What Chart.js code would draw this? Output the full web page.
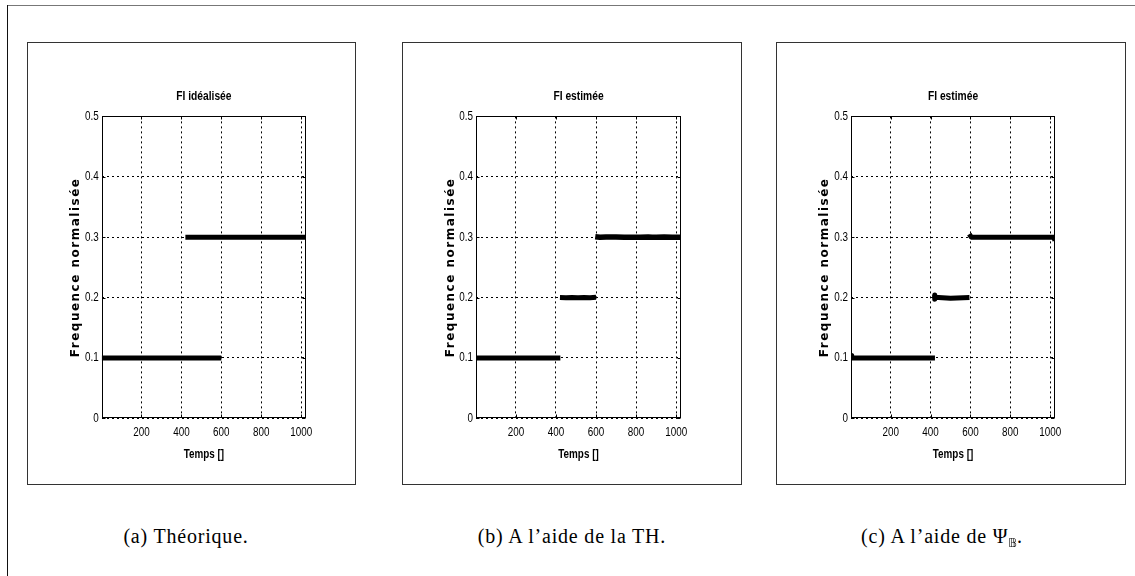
<!DOCTYPE html>
<html><head><meta charset="utf-8">
<script src="https://cdn.jsdelivr.net/npm/chart.js@4.4.1/dist/chart.umd.min.js"></script>
<style>
html,body{margin:0;padding:0;background:#fff;width:1135px;height:576px;overflow:hidden;position:relative;}
.frameTop{position:absolute;left:7px;top:5px;width:1128px;height:0;border-top:1px solid #777;}
.frameLeft{position:absolute;left:7px;top:5px;width:0;height:571px;border-left:1px solid #111;}
.panel{position:absolute;top:42px;height:443px;box-sizing:border-box;border:1px solid #333;}
canvas{position:absolute;top:42px;}
.cap{position:absolute;top:525px;font-family:"Liberation Serif","DejaVu Serif",serif;font-size:20px;letter-spacing:0.8px;color:#000;transform:translateX(-50%);white-space:nowrap;}
.cap sub{display:inline-block;font-family:"DejaVu Sans",sans-serif;font-size:12px;color:#000;letter-spacing:0;vertical-align:-4px;filter:grayscale(1) brightness(0.3);}
</style></head><body>
<div class="frameTop"></div><div class="frameLeft"></div>
<div class="panel" style="left:27px;width:329px;"></div>
<div class="panel" style="left:402px;width:340px;"></div>
<div class="panel" style="left:776px;width:350px;"></div>
<canvas id="ca" width="329" height="443" style="left:27px;width:329px;height:443px;"></canvas>
<canvas id="cb" width="340" height="443" style="left:402px;width:340px;height:443px;"></canvas>
<canvas id="cc" width="350" height="443" style="left:776px;width:350px;height:443px;"></canvas>
<div class="cap" style="left:186px;">(a) Théorique.</div>
<div class="cap" style="left:572px;">(b) A l’aide de la TH.</div>
<div class="cap" style="left:942px;">(c) A l’aide de Ψ<sub>𝔹</sub>.</div>
<script>
// ---- tick values / labels ----
const xTicks = [200, 400, 600, 800, 1000];
const xTickLabels = ['200', '400', '600', '800', '1000'];
const yTicks = [0, 0.1, 0.2, 0.3, 0.4, 0.5];
const yTickLabels = ['0', '0.1', '0.2', '0.3', '0.4', '0.5'];
const xMin = 1, xMax = 1024, yMin = 0, yMax = 0.5;

const titleA = 'FI idéalisée';
const titleB = 'FI estimée';
const titleC = 'FI estimée';
const xLabel = 'Temps []';
const yLabel = 'Frequence normalisée';

// ---- panel (a) théorique ----
const aSeg1X = [1, 600];
const aSeg1Y = [0.1, 0.1];
const aSeg2X = [420, 1024];
const aSeg2Y = [0.3, 0.3];

// ---- panel (b) TH ----
const bSeg1X = [1, 100, 200, 300, 422];
const bSeg1Y = [0.1, 0.1, 0.1, 0.1, 0.1];
const bSeg2X = [420, 450, 480, 510, 540, 570, 600];
const bSeg2Y = [0.2, 0.1997, 0.2, 0.1997, 0.2, 0.1997, 0.2003];
const bSeg3X = [596, 620, 650, 700, 740, 780, 820, 860, 880, 900, 940, 980, 1024];
const bSeg3Y = [0.3008, 0.2998, 0.3004, 0.3004, 0.300, 0.2998, 0.300, 0.3004, 0.300, 0.2998, 0.3004, 0.300, 0.300];

// ---- panel (c) Psi_B ----
const cSeg1X = [1, 3, 6, 200, 422];
const cSeg1Y = [0.1, 0.104, 0.1, 0.1, 0.1];
const cSeg2X = [420, 421, 425, 440, 500, 595];
const cSeg2Y = [0.204, 0.197, 0.2, 0.2, 0.199, 0.2];
const cSeg3X = [594, 604, 800, 1018, 1024];
const cSeg3Y = [0.305, 0.3, 0.3, 0.3, 0.294];

const sans = '"Liberation Sans", Arial, sans-serif';
const squeeze = 0.76;

function pts(xs, ys) { return xs.map((x, i) => ({x: x, y: ys[i]})); }
function ds(xs, ys, w) {
  return {data: pts(xs, ys), borderColor: '#000', borderWidth: w || 5, pointRadius: 0,
          fill: false, tension: 0, borderCapStyle: 'butt', borderJoinStyle: 'round'};
}

// narrow MATLAB-like text: squeeze glyphs horizontally around their anchor point
function squeezeCtx(canvas) {
  const ctx = canvas.getContext('2d');
  const orig = ctx.fillText.bind(ctx);
  ctx.fillText = function (text, x, y, maxWidth) {
    if (ctx._noSqueeze) {
      if (maxWidth === undefined) orig(text, x, y); else orig(text, x, y, maxWidth);
      return;
    }
    ctx.save();
    ctx.translate(x, y);
    ctx.scale(squeeze, 1);
    if (maxWidth === undefined) orig(text, 0, 0); else orig(text, 0, 0, maxWidth / squeeze);
    ctx.restore();
  };
  return canvas;
}

const framePlugin = {
  id: 'frame',
  afterDatasetsDraw(chart) {
    const {ctx, chartArea: a, scales} = chart;
    ctx.save();
    ctx.strokeStyle = '#000';
    ctx.lineWidth = 1;
    const l = Math.round(a.left) + 0.5, r = Math.round(a.right) - 0.5;
    const t = Math.round(a.top) + 0.5, b = Math.round(a.bottom) - 0.5;
    ctx.strokeRect(l, t, r - l, b - t);
    ctx.beginPath();
    xTicks.forEach(v => {
      const px = Math.round(scales.x.getPixelForValue(v)) + 0.5;
      ctx.moveTo(px, b); ctx.lineTo(px, b - 3);
      ctx.moveTo(px, t); ctx.lineTo(px, t + 3);
    });
    yTicks.forEach(v => {
      const py = Math.round(scales.y.getPixelForValue(v)) + 0.5;
      ctx.moveTo(l, py); ctx.lineTo(l + 3, py);
      ctx.moveTo(r, py); ctx.lineTo(r - 3, py);
    });
    ctx.stroke();
    ctx.restore();
  }
};

function makeChart(id, title, datasets, yW, rightPad) {
  const canvas = squeezeCtx(document.getElementById(id));
  return new Chart(canvas, {
    type: 'line',
    data: {datasets: datasets},
    plugins: [framePlugin],
    options: {
      responsive: false, animation: false, devicePixelRatio: 1,
      layout: {padding: {left: 0, right: rightPad, top: 0, bottom: 0}},
      plugins: {
        legend: {display: false}, tooltip: {enabled: false},
        title: {display: true, fullSize: false, text: title, color: '#000',
                font: {family: sans, size: 13.5, weight: 'bold'},
                padding: {top: 46.6, bottom: 11.6}}
      },
      scales: {
        x: {
          type: 'linear', min: xMin, max: xMax,
          afterBuildTicks: s => { s.ticks = xTicks.map(v => ({value: v})); },
          afterFit: s => { s.height = 66.7; s.paddingLeft = 0; s.paddingRight = 0; },
          ticks: {color: '#000', padding: 6.5, maxRotation: 0, autoSkip: false,
                  font: {family: sans, size: 13},
                  callback: (v, i) => xTickLabels[i]},
          grid: {color: '#000', lineWidth: 1, drawTicks: false, tickLength: 0},
          border: {display: false, dash: [2, 3]},
          title: {display: true, text: xLabel, color: '#000',
                  font: {family: sans, size: 13, weight: 'bold'},
                  padding: {top: 0, bottom: 23.2}}
        },
        y: {
          type: 'linear', min: yMin, max: yMax,
          afterBuildTicks: s => { s.ticks = yTicks.map(v => ({value: v})); },
          afterFit: s => {
            s.width = yW; s.paddingTop = 0; s.paddingBottom = 0;
            if (!s._lsPatched) {
              const orig = s.drawTitle;
              s.drawTitle = function () {
                const c = this.ctx; c.save(); c.letterSpacing = '1.5px'; c._noSqueeze = true;
                orig.call(this); c._noSqueeze = false; c.restore();
              };
              s._lsPatched = true;
            }
          },
          ticks: {color: '#000', padding: 3, autoSkip: false,
                  font: {family: sans, size: 13},
                  callback: (v, i) => yTickLabels[i]},
          grid: {color: '#000', lineWidth: 1, drawTicks: false, tickLength: 0},
          border: {display: false, dash: [2, 3]},
          title: {display: true, text: yLabel, color: '#000',
                  font: {family: '"DejaVu Sans", sans-serif', size: 12, weight: 'bold'},
                  padding: {top: 41.5, bottom: 0}}
        }
      }
    }
  });
}

makeChart('ca', titleA, [ds(aSeg1X, aSeg1Y), ds(aSeg2X, aSeg2Y)], 74.7, 50);
makeChart('cb', titleB, [ds(bSeg1X, bSeg1Y), ds(bSeg2X, bSeg2Y), ds(bSeg3X, bSeg3Y, 5.5)], 74, 61);
makeChart('cc', titleC, [ds(cSeg1X, cSeg1Y), ds(cSeg2X, cSeg2Y), ds(cSeg3X, cSeg3Y)], 75, 71);
</script>
</body></html>
